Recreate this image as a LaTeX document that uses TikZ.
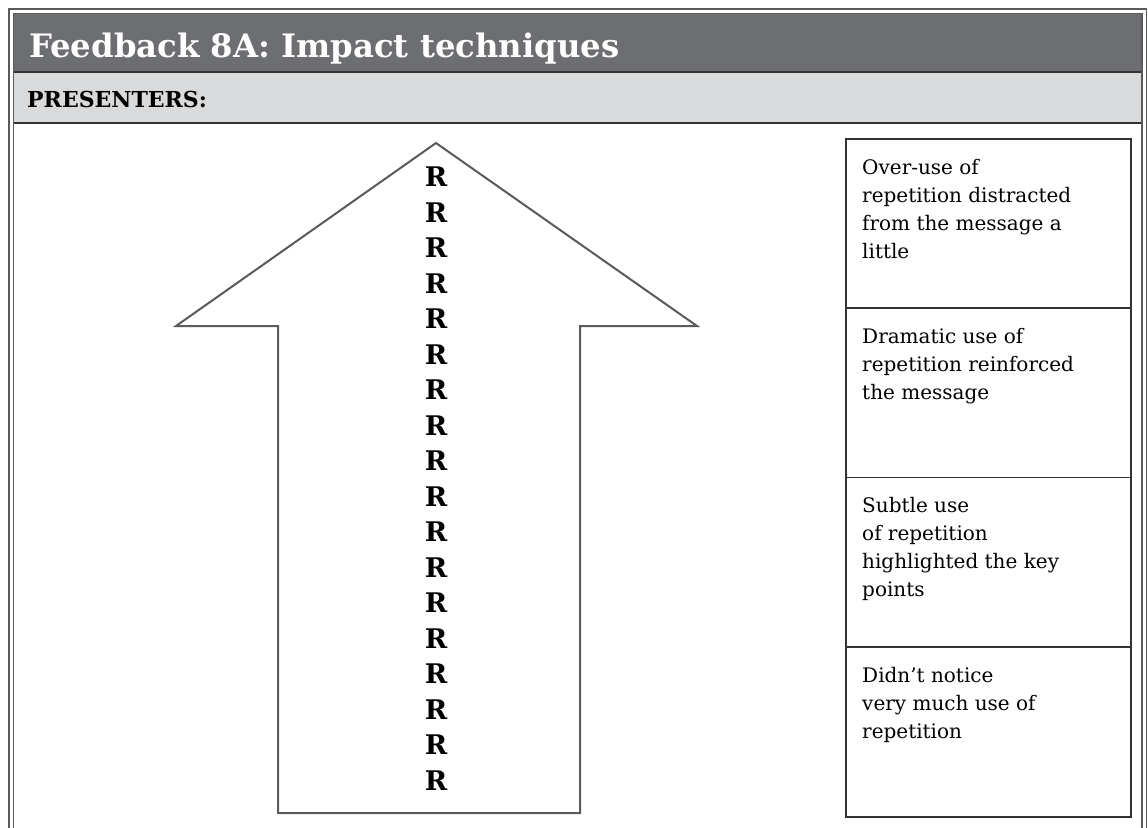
\documentclass[tikz,border=0pt]{standalone}
\usepackage{fontspec}
\setmainfont{DejaVu Serif}
\definecolor{hdrdark}{HTML}{6D6E71}
\definecolor{hdrlight}{HTML}{D9DADC}
\definecolor{framegray}{HTML}{5A5A5A}
\definecolor{arrowgray}{HTML}{5A5A5A}
\definecolor{rulegray}{HTML}{333333}
\tikzset{
  frameline/.style={draw=framegray, line width=1.6pt},
  sepline/.style={draw=rulegray, line width=1.4pt},
  bigarrow/.style={draw=arrowgray, line width=2pt, line join=miter, fill=white},
  optbox/.style={draw=rulegray, line width=1.4pt},
  optlabel/.style={anchor=north west, inner sep=0pt, align=left, font=\fontsize{20}{28}\selectfont},
}
\begin{document}
\begin{tikzpicture}[x=1pt,y=-1pt]
\useasboundingbox (0,0) rectangle (1148,827);
% header bands
\fill[hdrdark] (14,14) rectangle (1141,72);
\fill[hdrlight] (14,72) rectangle (1141,123);
\draw[sepline] (14,72) -- (1141,72);
\draw[sepline] (14,123) -- (1141,123);
% outer double frame
\draw[frameline] (9,840) -- (9,9) -- (1146.5,9) -- (1146.5,840);
\draw[frameline] (13.5,840) -- (13.5,13.5) -- (1142,13.5) -- (1142,840);
% title texts
\node[anchor=base west, inner sep=0pt, text=white, font=\fontsize{32.3}{38}\selectfont\bfseries] (title) at (29,57) {Feedback 8A: Impact techniques};
\node[anchor=base west, inner sep=0pt, text=black, font=\fontsize{22}{27}\selectfont\bfseries] (presenters) at (27,107) {PRESENTERS:};
% big arrow
\draw[bigarrow] (278,813) -- (278,326) -- (176,326) -- (436,143) -- (697,326) -- (580,326) -- (580,813) -- cycle;
\node[anchor=north, inner sep=0pt, align=center, font=\fontsize{27}{35.5}\selectfont\bfseries] (rcol) at (436,167)
  {R\\R\\R\\R\\R\\R\\R\\R\\R\\R\\R\\R\\R\\R\\R\\R\\R\\R};
% option boxes
\draw[optbox] (846,139) rectangle (1131,308);
\draw[optbox] (846,308) rectangle (1131,477.5);
\draw[optbox] (846,477.5) rectangle (1131,647);
\draw[optbox] (846,647) rectangle (1131,817);
\node[optlabel] (o1) at (862,159) {Over-use of\\repetition distracted\\from the message a\\little};
\node[optlabel] (o2) at (862,328) {Dramatic use of\\repetition reinforced\\the message};
\node[optlabel] (o3) at (862,497.5) {Subtle use\\of repetition\\highlighted the key\\points};
\node[optlabel] (o4) at (862,667) {Didn’t notice\\very much use of\\repetition};
\end{tikzpicture}
\end{document}
